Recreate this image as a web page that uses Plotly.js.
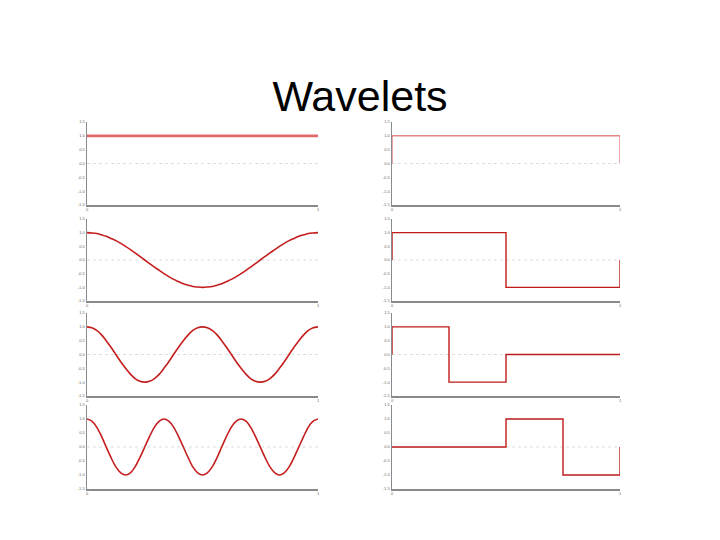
<!DOCTYPE html>
<html><head><meta charset="utf-8">
<script src="https://cdn.plot.ly/plotly-3.0.1.min.js"></script>
<style>html,body{margin:0;padding:0;background:#fff}#chart{width:720px;height:540px}</style>
</head><body><div id="chart"></div>
<script>
// sample positions (fraction of interval)
const t = [0,0.021,0.042,0.063,0.083,0.104,0.125,0.146,0.167,0.188,0.208,0.229,0.25,0.271,0.292,0.313,
           0.333,0.354,0.375,0.396,0.417,0.438,0.458,0.479,0.5,0.521,0.542,0.563,0.583,0.604,0.625,0.646,
           0.667,0.688,0.708,0.729,0.75,0.771,0.792,0.813,0.833,0.854,0.875,0.896,0.917,0.938,0.958,0.979,1];
// left column: cosine basis
const cos0 = [1,1,1,1,1,1,1,1,1,1,1,1,1,1,1,1,1,1,1,1,1,1,1,1,1,1,1,1,1,1,1,1,1,1,1,1,1,1,1,1,1,1,1,1,1,1,1,1,1];
const cos1 = [1,0.99,0.97,0.92,0.87,0.79,0.71,0.61,0.5,0.38,0.26,0.13,0,-0.13,-0.26,-0.38,-0.5,-0.61,-0.71,-0.79,-0.87,-0.92,-0.97,-0.99,-1,
              -0.99,-0.97,-0.92,-0.87,-0.79,-0.71,-0.61,-0.5,-0.38,-0.26,-0.13,0,0.13,0.26,0.38,0.5,0.61,0.71,0.79,0.87,0.92,0.97,0.99,1];
const cos2 = [1,0.97,0.87,0.71,0.5,0.26,0,-0.26,-0.5,-0.71,-0.87,-0.97,-1,-0.97,-0.87,-0.71,-0.5,-0.26,0,0.26,0.5,0.71,0.87,0.97,1,
              0.97,0.87,0.71,0.5,0.26,0,-0.26,-0.5,-0.71,-0.87,-0.97,-1,-0.97,-0.87,-0.71,-0.5,-0.26,0,0.26,0.5,0.71,0.87,0.97,1];
const cos3 = [1,0.92,0.71,0.38,0,-0.38,-0.71,-0.92,-1,-0.92,-0.71,-0.38,0,0.38,0.71,0.92,1,
              0.92,0.71,0.38,0,-0.38,-0.71,-0.92,-1,-0.92,-0.71,-0.38,0,0.38,0.71,0.92,1,
              0.92,0.71,0.38,0,-0.38,-0.71,-0.92,-1,-0.92,-0.71,-0.38,0,0.38,0.71,0.92,1];
// right column: Haar functions (step outlines)
const haarX0 = [0, 0, 1, 1];
const haarY0 = [0, 1, 1, 0];
const haarX1 = [0, 0, 0.5, 0.5, 1, 1];
const haarY1 = [0, 1, 1, -1, -1, 0];
const haarX2 = [0, 0, 0.25, 0.25, 0.5, 0.5, 1];
const haarY2 = [0, 1, 1, -1, -1, 0, 0];
const haarX3 = [0, 0.5, 0.5, 0.75, 0.75, 1, 1];
const haarY3 = [0, 0, 1, 1, -1, -1, 0];
const yTickVals = [1.5, 1.0, 0.5, 0.0, -0.5, -1.0, -1.5];
const yTickText = ["1.5", "1.0", "0.5", "0.0", "-0.5", "-1.0", "-1.5"];
const xTickVals = [0, 1];
const xTickText = ["0", "1"];

const leftSeries = [cos0, cos1, cos2, cos3];
const rightX = [haarX0, haarX1, haarX2, haarX3];
const rightY = [haarY0, haarY1, haarY2, haarY3];

const rowsPx = [[122,205],[219,301],[313,396],[405,489]];
const colsPx = [[87,318],[392,620]];
const W = 720, H = 540;

const data = [];
const layout = {
  width: W, height: H,
  margin: {l:0, r:0, t:0, b:0},
  paper_bgcolor: '#fff', plot_bgcolor: '#fff',
  showlegend: false,
  title: {text: 'Wavelets', font: {family: 'Liberation Sans, Arial, sans-serif', size: 43, color: '#000'},
          x: 0.5, xanchor: 'center', y: 1 - 96/H, yanchor: 'middle', yref: 'container'},
  shapes: []
};

let n = 0;
for (let r = 0; r < 4; r++) {
  for (let c = 0; c < 2; c++) {
    n++;
    const xa = n === 1 ? 'x' : 'x' + n;
    const ya = n === 1 ? 'y' : 'y' + n;
    const xk = n === 1 ? 'xaxis' : 'xaxis' + n;
    const yk = n === 1 ? 'yaxis' : 'yaxis' + n;
    if (c === 0) {
      data.push({x: t, y: leftSeries[r], xaxis: xa, yaxis: ya, mode: 'lines',
        line: {shape: 'spline', smoothing: 0.8, color: r === 0 ? '#e06a6a' : '#c41e1e', width: r === 0 ? 2.6 : 1.6}});
    } else {
      data.push({x: rightX[r], y: rightY[r], xaxis: xa, yaxis: ya, mode: 'lines',
        line: {color: r === 0 ? '#d85050' : '#c01a1a', width: r === 0 ? 1 : 1.4}});
    }
    layout[xk] = {
      domain: [colsPx[c][0]/W, colsPx[c][1]/W], anchor: ya, range: [0, 1],
      showgrid: false, zeroline: false, showline: true, linecolor: '#8a8a8a', linewidth: 1.5,
      tickmode: 'array', tickvals: xTickVals, ticktext: xTickText, ticks: '',
      tickfont: {size: 4, color: '#666', family: 'Liberation Sans, Arial'}
    };
    layout[yk] = {
      domain: [1 - rowsPx[r][1]/H, 1 - rowsPx[r][0]/H], anchor: xa, range: [-1.5, 1.5],
      showgrid: false, zeroline: false, showline: true, linecolor: '#8a8a8a', linewidth: 1.5,
      tickmode: 'array', tickvals: yTickVals, ticktext: yTickText, ticks: '',
      tickfont: {size: 4, color: '#666', family: 'Liberation Sans, Arial'}
    };
    layout.shapes.push({type: 'line', xref: xa + ' domain', yref: ya, x0: 0, x1: 1, y0: 0, y1: 0,
      line: {color: '#dddddd', width: 1, dash: 'dot'}, layer: 'below'});
  }
}

Plotly.newPlot('chart', data, layout, {displayModeBar: false, staticPlot: true});
</script>
</body></html>
